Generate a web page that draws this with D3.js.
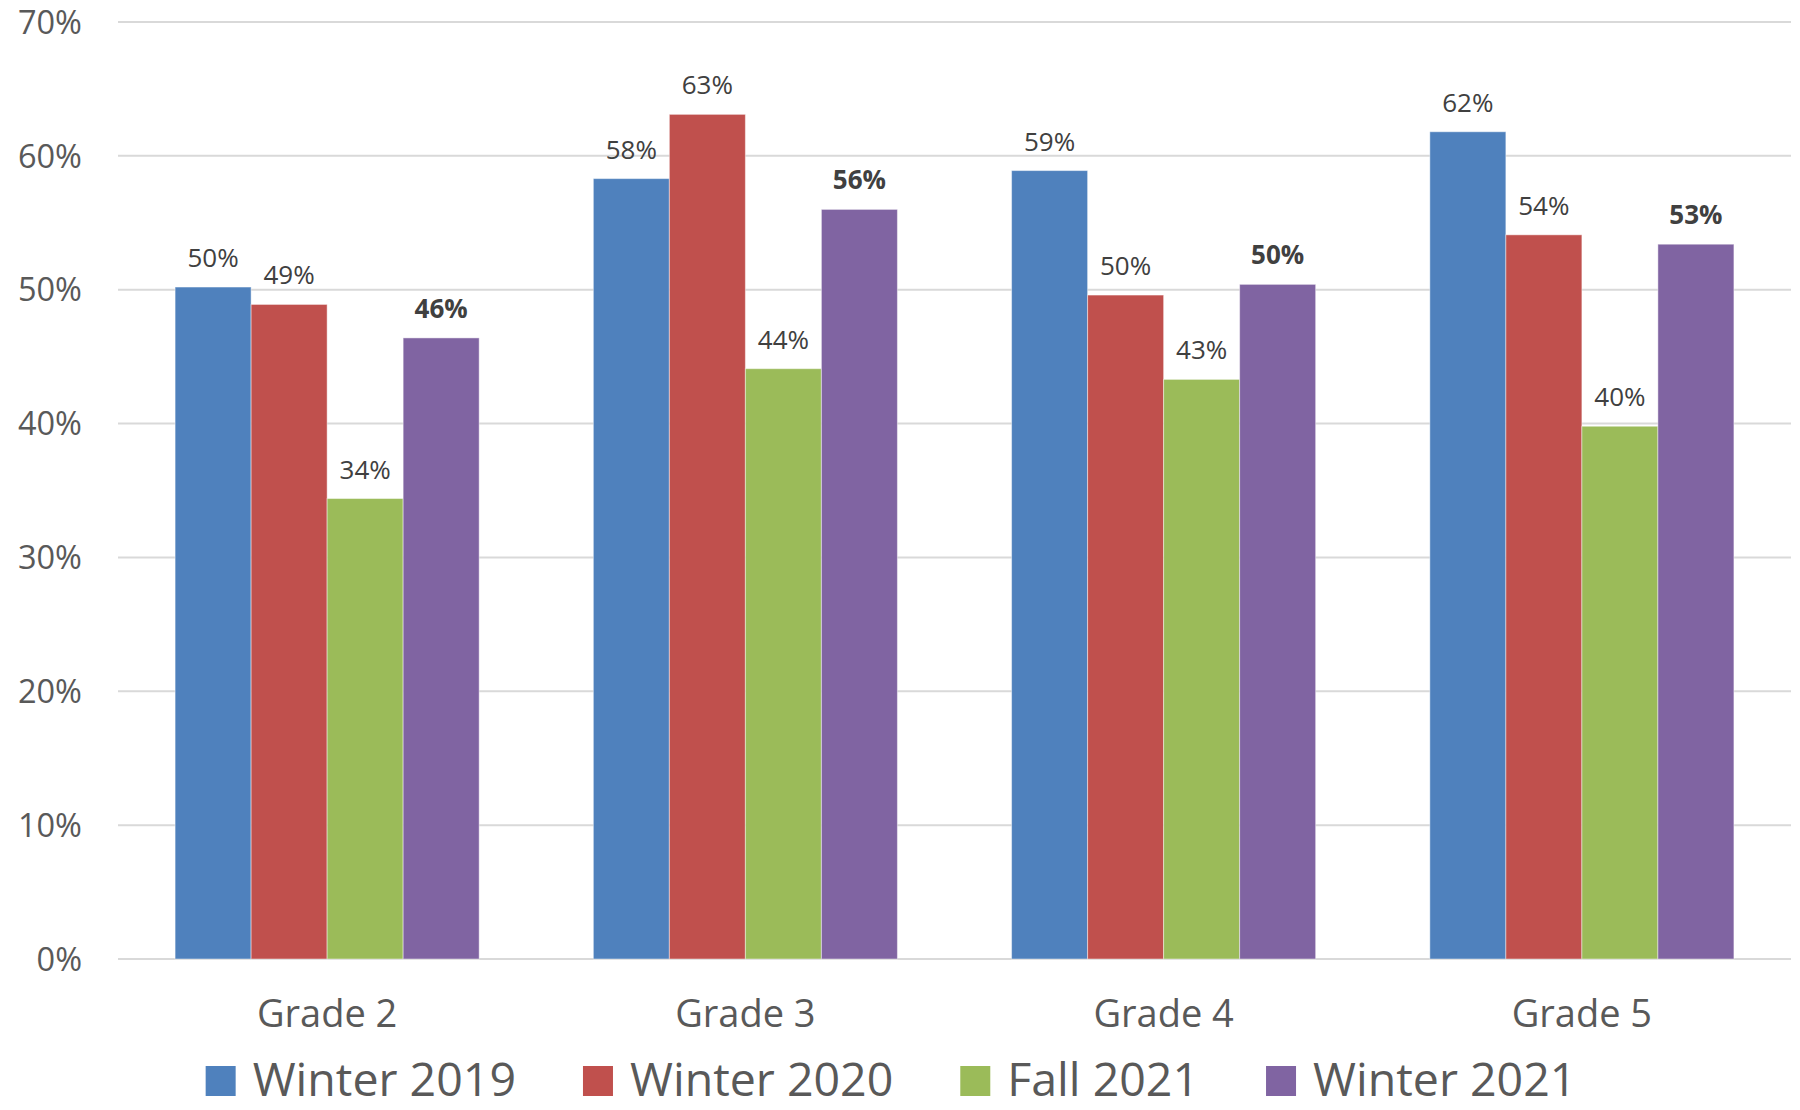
<!DOCTYPE html>
<html>
<head>
<meta charset="utf-8">
<script src="https://cdn.jsdelivr.net/npm/d3@7"></script>
<style>
  body { margin: 0; background: #fff; }
  svg { display: block; font-family: "Open Sans", sans-serif; }
</style>
</head>
<body>
<div class="canvas"></div>
<script>
const grades = ['Grade 2', 'Grade 3', 'Grade 4', 'Grade 5']
const seriesNames = ['Winter 2019', 'Winter 2020', 'Fall 2021', 'Winter 2021']
const winter2019 = [50.2, 58.3, 58.9, 61.8]
const winter2020 = [48.9, 63.1, 49.6, 54.1]
const fall2021 = [34.4, 44.1, 43.3, 39.8]
const winter2021 = [46.4, 56.0, 50.4, 53.4]
const yTicks = [0, 10, 20, 30, 40, 50, 60, 70]

const seriesValues = [winter2019, winter2020, fall2021, winter2021]
const colours = ['#4F81BD', '#C0504D', '#9BBB59', '#8064A2']

const dims = { width: 1800, height: 1110 }
const plot = { left: 118, right: 1791, top: 22, bottom: 959 }

const svg = d3.select('.canvas')
    .append('svg')
    .attr('width', dims.width)
    .attr('height', dims.height)

const x = d3.scaleBand()
    .domain(grades)
    .range([plot.left, plot.right])
    .paddingInner(0.273)
    .paddingOuter(0.1365)

const xInner = d3.scaleBand()
    .domain(seriesNames)
    .range([0, x.bandwidth()])

const y = d3.scaleLinear()
    .domain([0, 70])
    .range([plot.bottom, plot.top])

const colour = d3.scaleOrdinal().domain(seriesNames).range(colours)

// gridlines
svg.append('g')
    .selectAll('line')
    .data(yTicks)
    .enter().append('line')
        .attr('x1', plot.left)
        .attr('x2', plot.right)
        .attr('y1', d => y(d))
        .attr('y2', d => y(d))
        .attr('stroke', '#D9D9D9')
        .attr('stroke-width', 2)

// y axis labels
svg.append('g')
    .selectAll('text')
    .data(yTicks)
    .enter().append('text')
        .attr('x', 82)
        .attr('y', d => y(d))
        .attr('dy', '0.36em')
        .attr('text-anchor', 'end')
        .attr('font-size', 32.5)
        .attr('fill', '#595959')
        .text(d => d + '%')

// flatten data
const data = []
grades.forEach((g, i) => {
    seriesNames.forEach((s, j) => {
        data.push({ grade: g, series: s, value: seriesValues[j][i] })
    })
})

const bars = svg.append('g')

bars.selectAll('rect')
    .data(data)
    .enter().append('rect')
        .attr('x', d => x(d.grade) + xInner(d.series))
        .attr('y', d => y(d.value))
        .attr('width', xInner.bandwidth())
        .attr('height', d => y(0) - y(d.value))
        .attr('fill', d => colour(d.series))
        .attr('stroke', '#fff')
        .attr('stroke-opacity', 0.45)
        .attr('stroke-width', 1)

bars.selectAll('text')
    .data(data)
    .enter().append('text')
        .attr('x', d => x(d.grade) + xInner(d.series) + xInner.bandwidth() / 2)
        .attr('y', d => y(d.value) - 20)
        .attr('text-anchor', 'middle')
        .attr('font-size', 26)
        .attr('font-weight', d => d.series === 'Winter 2021' ? 'bold' : 'normal')
        .attr('fill', '#404040')
        .text(d => Math.round(d.value) + '%')

// category labels
svg.append('g')
    .selectAll('text')
    .data(grades)
    .enter().append('text')
        .attr('x', d => x(d) + x.bandwidth() / 2)
        .attr('y', 1027)
        .attr('text-anchor', 'middle')
        .attr('font-size', 38)
        .attr('fill', '#595959')
        .text(d => d)

// legend
const legendGroup = svg.append('g')
const items = legendGroup.selectAll('g')
    .data(seriesNames)
    .enter().append('g')

items.append('rect')
    .attr('width', 30)
    .attr('height', 30)
    .attr('y', 1066)
    .attr('fill', d => colour(d))

items.append('text')
    .attr('y', 1096)
    .attr('font-size', 46.5)
    .attr('fill', '#595959')
    .text(d => d)

let pos = 0
items.each(function(){
    const item = d3.select(this)
    const w = item.select('text').node().getComputedTextLength()
    item.select('rect').attr('x', pos)
    item.select('text').attr('x', pos + 47)
    pos += 47 + w + 67
})
const legendWidth = pos - 67
legendGroup.attr('transform', `translate(${891 - legendWidth / 2}, 0)`)
</script>
</body>
</html>
